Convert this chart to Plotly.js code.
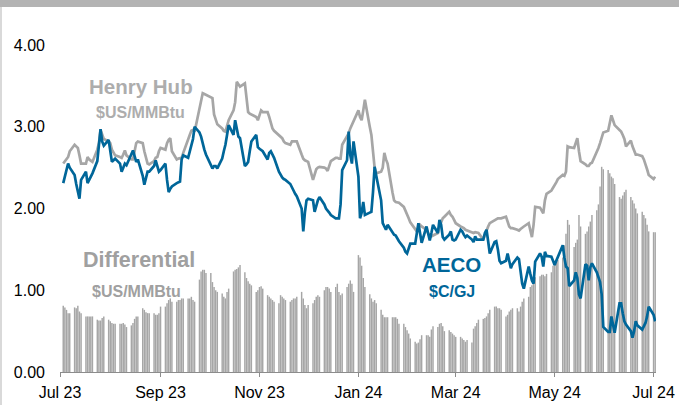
<!DOCTYPE html>
<html>
<head>
<meta charset="utf-8">
<script src="https://cdn.plot.ly/plotly-3.0.1.min.js"></script>
<style>html,body{margin:0;padding:0;background:#fff;}#chart{width:679px;height:405px;}</style>
</head>
<body>
<div id="chart"></div>
<script>
// First trading day (Monday); series are weekday values, 5 per week
const firstMonday = [2023, 6, 3];

const henryHub = [
2.55,2.58,2.61,2.63,2.70, 2.78,2.76,2.74,2.65,2.55, 2.55,2.63,2.60,2.58,2.57, 2.72,2.80,2.96,2.90,2.85,
2.82,2.80,2.72,2.68,2.65, 2.63,2.62,2.66,2.71,2.65, 2.60,2.60,2.70,2.80,2.82, 2.80,2.70,2.62,2.55,2.54,
2.58,2.62,2.63,2.70,2.74, 2.72,2.80,2.84,2.86,2.70, 2.60,2.61,2.62,2.62,2.68, 2.86,2.90,2.95,2.96,2.94,
3.25,3.35,3.41,3.40,3.39, 3.37,3.35,3.15,3.08,3.03, 2.98,2.95,2.94,3.00,3.08, 3.20,3.30,3.55,3.52,3.49,
3.53,3.35,3.18,3.16,3.15, 3.12,3.08,3.15,3.20,3.18, 3.18,3.12,3.05,2.98,2.95, 2.90,2.88,2.86,2.82,2.80,
2.78,2.82,2.82,2.82,2.82, 2.66,2.61,2.59,2.58,2.57, 2.35,2.42,2.48,2.50,2.51, 2.50,2.49,2.46,2.52,2.58,
2.62,2.62,2.61,2.61,2.78, 2.88,2.92,2.98,3.02,3.08, 3.20,3.12,3.08,3.20,3.33, 3.00,2.90,2.70,2.50,2.43,
2.45,2.50,2.68,2.60,2.55, 2.20,2.10,2.08,2.07,2.07, 2.02,1.98,1.94,1.88,1.83, 1.74,1.72,1.76,1.80,1.78,
1.74,1.70,1.66,1.66,1.67, 1.70,1.78,1.84,1.88,1.90, 1.96,1.92,1.90,1.86,1.82, 1.78,1.77,1.76,1.74,1.73,
1.70,1.70,1.71,1.70,1.70, 1.62,1.68,1.74,1.78,1.82, 1.86,1.87,1.88,1.88,1.88, 1.90,1.84,1.78,1.76,1.76,
1.74,1.73,1.75,1.77,1.78, 1.82,1.75,1.65,1.80,2.02, 2.01,1.98,1.94,2.10,2.18, 2.22,2.25,2.28,2.32,2.36,
2.41,2.40,2.45,2.76,2.75, 2.74,2.80,2.86,2.70,2.58, 2.54,2.52,2.52,2.55,2.56, 2.68,2.74,2.80,2.86,2.93,
2.95,3.05,3.14,3.08,3.02, 2.96,2.94,2.90,2.85,2.76, 2.83,2.76,2.70,2.66,2.66, 2.64,2.60,2.55,2.48,2.41,
2.36,2.39
];

const aeco = [
2.31,2.40,2.50,2.55,2.50, 2.41,2.30,2.20,2.12,2.35, 2.45,2.31,2.35,2.40,2.43, 2.58,2.75,2.97,2.82,2.77,
2.84,2.70,2.57,2.59,2.61, 2.55,2.45,2.50,2.55,2.53, 2.66,2.71,2.64,2.57,2.60, 2.40,2.29,2.38,2.45,2.45,
2.52,2.59,2.50,2.45,2.47, 2.55,2.35,2.20,2.24,2.27, 2.31,2.32,2.33,2.60,2.65, 2.62,2.70,2.78,2.85,3.00,
2.93,2.88,2.78,2.72,2.66, 2.52,2.49,2.52,2.52,2.49, 2.61,2.70,2.78,2.90,3.02, 2.90,3.08,2.98,2.88,2.86,
2.52,2.54,2.57,2.70,2.82, 2.90,2.75,2.73,2.72,2.70, 2.60,2.68,2.70,2.66,2.62, 2.45,2.41,2.38,2.36,2.35,
2.30,2.25,2.22,2.18,2.15, 2.00,1.72,1.95,2.10,2.12, 2.10,1.96,2.05,2.10,2.14, 2.05,2.00,1.98,1.95,1.92,
1.88,1.88,1.88,2.05,2.47, 2.59,2.94,2.65,2.55,2.82, 2.39,1.88,1.95,2.08,1.92, 1.95,1.96,2.20,2.51,2.40,
2.10,1.82,1.78,1.74,1.80, 1.72,1.68,1.67,1.63,1.60, 1.52,1.47,1.45,1.52,1.57, 1.57,1.70,1.82,1.70,1.58,
1.78,1.68,1.61,1.70,1.80, 1.70,1.86,1.80,1.65,1.62, 1.68,1.72,1.62,1.61,1.62, 1.74,1.72,1.68,1.65,1.67,
1.62,1.59,1.66,1.62,1.62, 1.62,1.70,1.74,1.60,1.45, 1.59,1.60,1.50,1.36,1.33, 1.36,1.45,1.35,1.27,1.32,
1.40,1.38,1.22,1.08,1.02, 1.29,1.20,1.12,1.08,1.35, 1.45,1.41,1.29,1.47,1.42, 1.41,1.36,1.31,1.36,1.41,
1.55,1.40,1.29,1.27,1.05, 1.12,1.22,1.15,0.95,0.90, 1.32,1.30,1.12,1.28,1.33, 1.22,1.17,1.10,0.95,0.55,
0.49,0.49,0.68,0.55,0.48, 0.84,0.84,0.72,0.62,0.58, 0.50,0.42,0.50,0.62,0.57, 0.52,0.56,0.60,0.68,0.80,
0.70,0.62
];

const differential = [
0.81,0.79,0.76,0.72,0.72, 0.79,0.78,0.81,0.74,0.72, 0.68,0.68,0.68,0.68,0.68, 0.64,0.63,0.63,0.66,0.68,
0.64,0.62,0.60,0.59,0.59, 0.59,0.59,0.60,0.58,0.55, 0.57,0.60,0.65,0.68,0.68, 0.78,0.76,0.73,0.72,0.72,
0.72,0.70,0.70,0.72,0.80, 0.80,0.84,0.88,0.90,0.86, 0.86,0.88,0.88,0.90,0.90, 0.90,0.90,0.92,0.88,0.86,
1.13,1.23,1.25,1.25,1.21, 1.21,1.10,1.04,1.00,0.98, 0.96,0.92,0.90,0.98,1.02, 1.23,1.25,1.26,1.28,1.31,
1.22,1.15,1.11,1.08,1.06, 0.98,1.00,1.04,1.05,1.02, 0.94,0.92,0.90,0.88,0.86, 0.84,0.94,0.92,0.90,0.88,
0.86,0.88,0.90,0.90,0.92, 0.98,0.90,0.82,0.78,0.82, 0.84,0.88,0.92,0.94,0.92, 1.00,1.04,1.04,1.02,0.98,
1.04,1.08,0.98,0.94,0.96, 1.04,1.08,1.12,1.08,0.98, 1.43,1.40,1.30,1.15,1.04, 0.95,0.90,0.86,0.88,0.84,
0.76,0.70,0.67,0.67,0.67, 0.67,0.67,0.67,0.65,0.59, 0.59,0.55,0.51,0.47,0.41, 0.37,0.35,0.36,0.40,0.45,
0.45,0.45,0.43,0.52,0.56, 0.55,0.59,0.60,0.56,0.50, 0.51,0.49,0.47,0.45,0.43, 0.43,0.41,0.39,0.37,0.39,
0.36,0.53,0.56,0.60,0.64, 0.65,0.66,0.68,0.72,0.76, 0.80,0.80,0.78,0.78,0.76, 0.68,0.70,0.74,0.76,0.78,
0.78,0.74,0.80,0.86,0.90, 0.92,1.04,1.06,1.10,1.16, 1.17,1.19,1.19,1.17,1.20, 1.22,1.30,1.35,1.37,1.37,
1.40,1.55,1.69,1.86,1.80, 1.53,1.58,1.62,1.92,1.78, 1.69,1.72,1.78,1.84,1.92, 1.98,2.05,2.27,2.51,2.48,
2.47,2.43,2.39,2.37,2.30, 2.14,2.12,2.16,2.20,2.23, 2.14,2.10,2.06,2.00,1.94, 1.96,1.92,1.88,1.80,1.72,
1.71,1.71
];

const yTickVals = [0, 1, 2, 3, 4];
const yTickText = ['0.00', '1.00', '2.00', '3.00', '4.00'];

// weekday dates (category positions)
function weekdayDates(n) {
  const out = [];
  for (let i = 0; i < n; i++) {
    const w = Math.floor(i / 5), d = i % 5;
    const dt = new Date(Date.UTC(firstMonday[0], firstMonday[1], firstMonday[2] + w * 7 + d));
    out.push(dt.toISOString().slice(0, 10));
  }
  return out;
}
const dates = weekdayDates(henryHub.length);

const FONT = 'Liberation Sans, Arial, sans-serif';
const W = 679, H = 405, ML = 60, MR = 23, MT = 45, MB = 33;
const PW = W - ML - MR, PH = H - MT - MB;
const px = x => (x - ML) / PW;
const py = y => (H - MB - y) / PH;

const traces = [
  { type: 'bar', x: dates, y: differential, width: 0.9 * 86400000,
    marker: { color: '#a6a6a6', line: { width: 0 } }, hoverinfo: 'skip' },
  { type: 'scatter', mode: 'lines', x: dates, y: henryHub,
    line: { color: '#a6a6a6', width: 2.7 }, hoverinfo: 'skip' },
  { type: 'scatter', mode: 'lines', x: dates, y: aeco,
    line: { color: '#006699', width: 2.7 }, hoverinfo: 'skip' }
];

function ann(text, x, y, size, color) {
  return { text: '<b>' + text + '</b>', xref: 'paper', yref: 'paper', x: px(x), y: py(y),
    xanchor: 'center', yanchor: 'middle', showarrow: false,
    font: { family: FONT, size: size, color: color } };
}

const layout = {
  width: W, height: H,
  margin: { l: ML, r: MR, t: MT, b: MB, pad: 0 },
  paper_bgcolor: '#ffffff', plot_bgcolor: '#ffffff',
  showlegend: false,
  xaxis: {
    type: 'date', range: ['2023-07-01', '2024-07-02 12:00'],
    tick0: '2023-07-01', dtick: 'M2', tickformat: '%b %y',
    ticks: 'outside', ticklen: 4, tickcolor: '#8c8c8c', tickwidth: 1,
    showline: true, linecolor: '#8c8c8c', linewidth: 1,
    showgrid: false, zeroline: false, ticklabelstandoff: 2,
    tickfont: { family: FONT, size: 16, color: '#000000' }
  },
  yaxis: {
    range: [0, 4], tickvals: yTickVals, ticktext: yTickText,
    showgrid: false, zeroline: false, showline: false, ticks: '',
    ticklabelstandoff: 14,
    tickfont: { family: FONT, size: 16, color: '#000000' }
  },
  annotations: [
    ann('Henry Hub', 140.5, 86, 20.5, '#adadad'),
    ann('$US/MMBtu', 140.5, 112, 16, '#adadad'),
    ann('Differential', 138.5, 260, 21.5, '#a0a0a0'),
    ann('$US/MMBtu', 136, 291.5, 16, '#a0a0a0'),
    ann('AECO', 451.5, 264.5, 20.5, '#006699'),
    ann('$C/GJ', 452, 291, 16, '#006699')
  ],
  shapes: [
    { type: 'rect', xref: 'paper', yref: 'paper', x0: px(-5), x1: px(W + 5), y0: py(7), y1: py(-5),
      fillcolor: '#b3b3b3', line: { width: 0 }, layer: 'above' },
    { type: 'rect', xref: 'paper', yref: 'paper', x0: px(-5), x1: px(2), y0: py(H + 5), y1: py(7),
      fillcolor: '#d9d9d9', line: { width: 0 }, layer: 'above' }
  ]
};

Plotly.newPlot('chart', traces, layout, { staticPlot: true, displayModeBar: false });
</script>
</body>
</html>
